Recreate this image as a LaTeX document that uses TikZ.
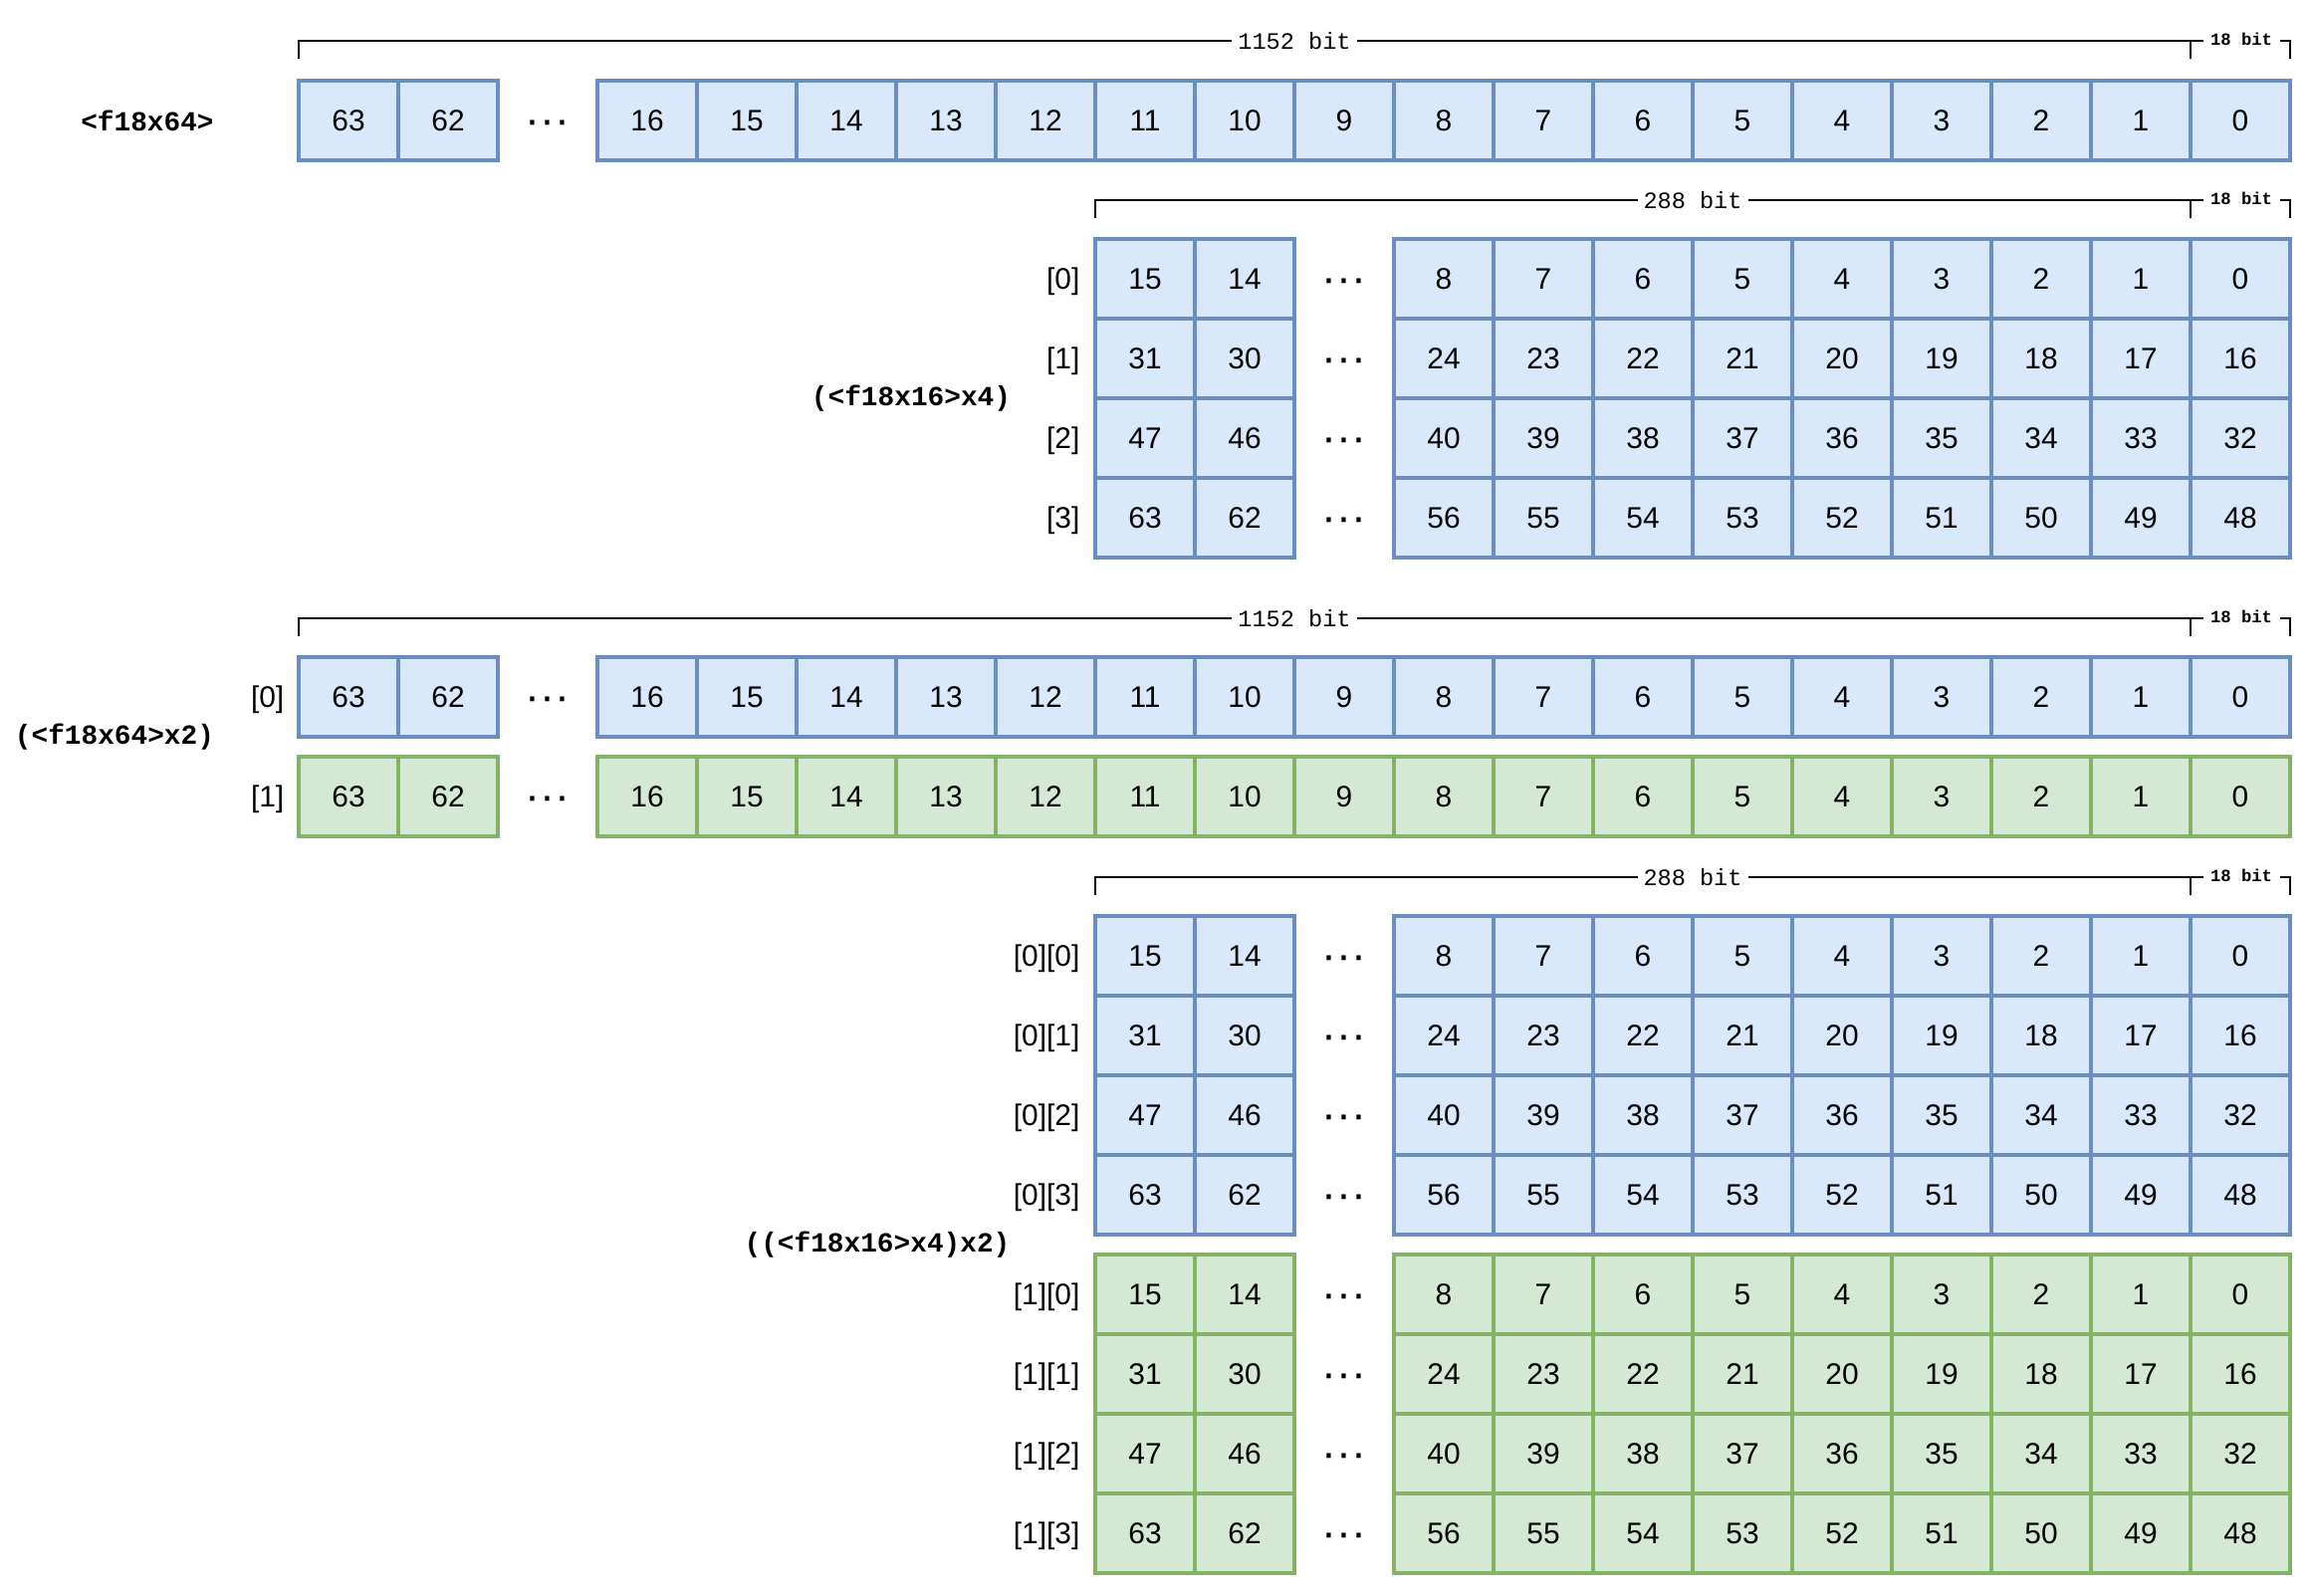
\documentclass[tikz,border=0pt]{standalone}
\usepackage{fontspec}
\setmainfont{Liberation Sans}
\newfontfamily\monofont{Liberation Mono}

\definecolor{bfill}{HTML}{DAE8FC}
\definecolor{bdraw}{HTML}{6C8EBF}
\definecolor{gfill}{HTML}{D5E8D4}
\definecolor{gdraw}{HTML}{82B366}

\tikzset{
  cellb/.style={draw=bdraw, fill=bfill, line width=1pt, minimum width=1cm,
    minimum height=0.8cm, inner sep=0pt, font=\fontsize{8.5}{10}\selectfont},
  cellg/.style={cellb, draw=gdraw, fill=gfill},
  gap/.style={anchor=base, inner sep=0pt, font=\fontsize{12.7}{14}\selectfont},
  idx/.style={anchor=east, inner sep=0pt, yshift=-0.03cm,
    font=\fontsize{8.5}{10}\selectfont},
  typelbl/.style={inner sep=0pt, font=\monofont\bfseries\fontsize{7.9}{9}\selectfont},
  brk/.style={line width=0.6pt, black},
  bitlbl/.style={fill=white, inner xsep=0.06cm, inner ysep=0pt,
    font=\monofont\fontsize{6.7}{8}\selectfont},
  smallbit/.style={fill=white, inner xsep=0.075cm, inner ysep=0pt,
    font=\monofont\bfseries\fontsize{4.9}{6}\selectfont},
}

% bracket over a row: left end, 18-bit split at 2200, right end at 2300
\newcommand\bitspan[5]{%
  \coordinate (#1-l) at (#2,#3);
  \coordinate (#1-m) at (2200,#3);
  \coordinate (#1-r) at (2300,#3);
  \draw[brk] ([yshift=-0.18cm]#1-l) -- (#1-l) -- (#1-r) -- ([yshift=-0.18cm]#1-r);
  \draw[brk] (#1-m) -- ([yshift=-0.18cm]#1-m);
  \node[bitlbl] (#1-text) at (#5,#3) {#4};
  \node[smallbit] (#1-small) at (2251,#3-2) {18 bit};
}

% one 64-lane word: 63 62 ... 16 .. 0
\newcommand\wordrow[3]{%
  \node[#3] (#1-63) at (350,#2) {63};
  \node[#3] (#1-62) at (450,#2) {62};
  \node[gap] (#1-gap) at (550,#2+14) {···};
  \foreach \v [count=\i from 0] in {16,15,...,0} {
    \node[#3] (#1-\v) at (650+100*\i,#2) {\v};
  }
}

% one 16-lane slice starting at lane #4
\newcommand\laneRow[5]{%
  \pgfmathtruncatemacro\hiA{#4+15}
  \pgfmathtruncatemacro\hiB{#4+14}
  \node[idx] (#1-idx) at (1085,#2) {#5};
  \node[#3] (#1-a) at (1150,#2) {\hiA};
  \node[#3] (#1-b) at (1250,#2) {\hiB};
  \node[gap] (#1-gap) at (1350,#2+14) {···};
  \foreach \j in {0,...,8} {
    \pgfmathtruncatemacro\val{#4+8-\j}
    \node[#3] (#1-\j) at (1450+100*\j,#2) {\val};
  }
}

\begin{document}
\begin{tikzpicture}[x=0.01cm, y=-0.01cm]
  \useasboundingbox (0,0) rectangle (2322,1602);

  % <f18x64>
  \bitspan{s1}{300}{41}{1152 bit}{1300}
  \node[typelbl] (t1) at (148,121) {<f18x64>};
  \wordrow{w}{121}{cellb}

  % (<f18x16>x4)
  \bitspan{s2}{1100}{201}{288 bit}{1700}
  \node[typelbl] (t2) at (915,400) {(<f18x16>x4)};
  \laneRow{q0}{280}{cellb}{0}{[0]}
  \laneRow{q1}{360}{cellb}{16}{[1]}
  \laneRow{q2}{440}{cellb}{32}{[2]}
  \laneRow{q3}{520}{cellb}{48}{[3]}

  % (<f18x64>x2)
  \bitspan{s3}{300}{621}{1152 bit}{1300}
  \node[typelbl] (t3) at (115,740) {(<f18x64>x2)};
  \node[idx] (p0-idx) at (286,700) {[0]};
  \node[idx] (p1-idx) at (286,800) {[1]};
  \wordrow{p0}{700}{cellb}
  \wordrow{p1}{800}{cellg}

  % ((<f18x16>x4)x2)
  \bitspan{s4}{1100}{881}{288 bit}{1700}
  \node[typelbl] (t4) at (881,1250) {((<f18x16>x4)x2)};
  \laneRow{a0}{960}{cellb}{0}{[0][0]}
  \laneRow{a1}{1040}{cellb}{16}{[0][1]}
  \laneRow{a2}{1120}{cellb}{32}{[0][2]}
  \laneRow{a3}{1200}{cellb}{48}{[0][3]}
  \laneRow{b0}{1300}{cellg}{0}{[1][0]}
  \laneRow{b1}{1380}{cellg}{16}{[1][1]}
  \laneRow{b2}{1460}{cellg}{32}{[1][2]}
  \laneRow{b3}{1540}{cellg}{48}{[1][3]}
\end{tikzpicture}
\end{document}
